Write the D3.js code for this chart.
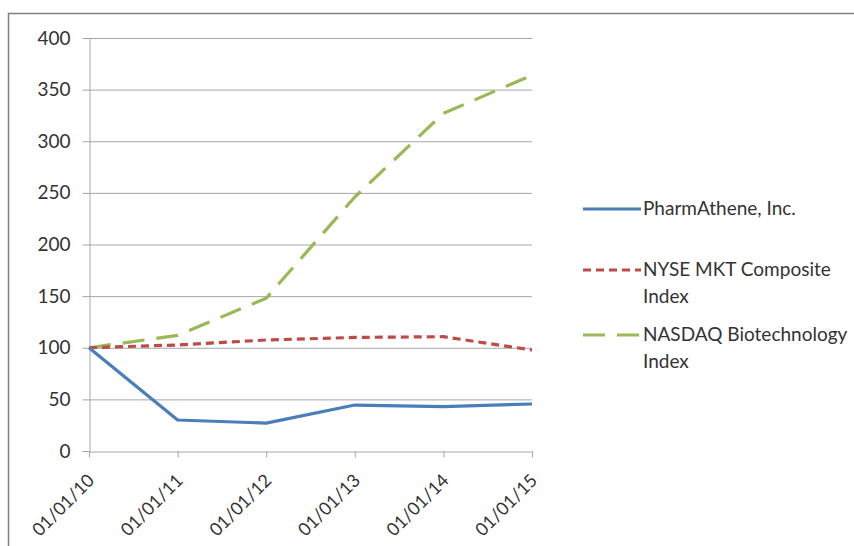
<!DOCTYPE html>
<html><head><meta charset="utf-8">
<script src="https://cdn.jsdelivr.net/npm/d3@7"></script>
<style>
html,body{margin:0;padding:0;background:#fff;}
svg{display:block;font-family:Lato,"Open Sans",sans-serif;}
</style></head>
<body>
<script>
const categories = ["01/01/10","01/01/11","01/01/12","01/01/13","01/01/14","01/01/15"];
const pharmathene = [100, 30, 27, 44.5, 43, 45.5];
const nyse = [100, 102.7, 107.5, 110, 110.7, 97.8];
const nasdaq = [100, 112, 148, 246, 327, 364];
const yTicks = [0, 50, 100, 150, 200, 250, 300, 350, 400];
const seriesNames = ["PharmAthene, Inc.", "NYSE MKT Composite Index", "NASDAQ Biotechnology Index"];

const W = 854, H = 546;
const FONT = 19, TXT = "#333333";
const svg = d3.select("body").append("svg").attr("width", W).attr("height", H);

// outer frame
svg.append("path").attr("d", `M8.5,${H} L8.5,13.5 L${W},13.5`).attr("fill","none").attr("stroke","#7f7f7f").attr("stroke-width",1.5);

const x = d3.scalePoint().domain(categories).range([89, 532]);
const y = d3.scaleLinear().domain([0, 400]).range([451, 38]);

// gridlines
svg.append("g").selectAll("line").data(yTicks.filter(d=>d>0)).join("line")
  .attr("x1", 89).attr("x2", 532)
  .attr("y1", d=>y(d)+0.5).attr("y2", d=>y(d)+0.5)
  .attr("stroke","#a6a6a6").attr("stroke-width",1);

// y axis
const yAxis = svg.append("g").attr("transform","translate(89.5,0)")
  .call(d3.axisLeft(y).tickValues(yTicks).tickSize(7).tickPadding(12).tickSizeOuter(0));
yAxis.select(".domain").attr("stroke","#a6a6a6");
yAxis.selectAll(".tick line").attr("stroke","#a6a6a6");
yAxis.selectAll(".tick text").attr("font-size",FONT).attr("fill",TXT).attr("font-family","Lato,'Open Sans',sans-serif");

// x axis
const xAxis = svg.append("g").attr("transform","translate(0,451.5)")
  .call(d3.axisBottom(x).tickSize(6).tickSizeOuter(0));
xAxis.select(".domain").attr("stroke","#a6a6a6");
xAxis.selectAll(".tick line").attr("stroke","#a6a6a6");
xAxis.selectAll(".tick text")
  .attr("font-size",18).attr("fill",TXT).attr("font-family","Lato,'Open Sans',sans-serif")
  .attr("text-anchor","end").attr("dy",null).attr("y",0)
  .attr("transform","translate(6,30) rotate(-45)");

const line = d3.line().x((d,i)=>x(categories[i])).y(d=>y(d));

const styles = [
  {data: pharmathene, color:"#4a7ebb", dash:null},
  {data: nyse, color:"#be4b48", dash:"8,5"},
  {data: nasdaq, color:"#98b954", dash:"22,12"}
];
// draw order: green, red, blue
[2,1,0].forEach(i=>{
  const s = styles[i];
  svg.append("path").datum(s.data).attr("d", line)
    .attr("fill","none").attr("stroke", s.color).attr("stroke-width",3.2)
    .attr("stroke-dasharray", s.dash).attr("stroke-linejoin","round");
});

// legend
const legend = [
  {lines:["PharmAthene, Inc."], y:209},
  {lines:["NYSE MKT Composite","Index"], y:270},
  {lines:["NASDAQ Biotechnology","Index"], y:335}
];
legend.forEach((L,i)=>{
  const s = styles[i];
  svg.append("line").attr("x1",583).attr("x2",641).attr("y1",L.y).attr("y2",L.y)
    .attr("stroke",s.color).attr("stroke-width",3.2).attr("stroke-dasharray", s.dash);
  const t = svg.append("text").attr("x",643).attr("y",L.y+6).attr("font-size",FONT).attr("fill",TXT);
  L.lines.forEach((ln,j)=>{
    t.append("tspan").attr("x",643).attr("dy", j===0?0:27).text(ln);
  });
});
</script>
</body></html>
